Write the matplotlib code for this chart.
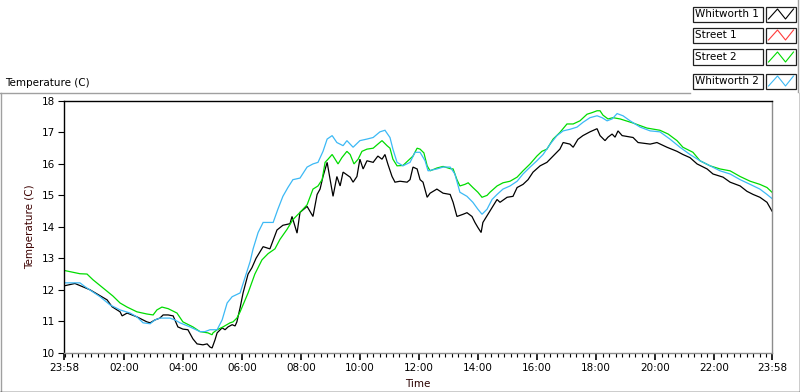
import matplotlib
matplotlib.use("Agg")
import matplotlib.pyplot as plt
from matplotlib.lines import Line2D
from matplotlib.patches import Rectangle

# ---------------- data ----------------
series_names = ["Whitworth 1", "Street 1", "Street 2", "Whitworth 2"]
series_colors = ["#000000", "#ff3c3c", "#00dc00", "#3cb9f5"]

start_clock = "23:58"
tick_labels = ["23:58", "02:00", "04:00", "06:00", "08:00", "10:00", "12:00",
               "14:00", "16:00", "18:00", "20:00", "22:00", "23:58"]
y_ticks = [10, 11, 12, 13, 14, 15, 16, 17, 18]

# hours since start (23:58)
w1_t = [0.03, 0.37, 0.88, 1.46, 1.63, 1.90, 1.97, 2.14, 2.47, 2.81, 2.92, 3.08, 3.25, 3.36,
        3.53, 3.70, 3.86, 4.03, 4.20, 4.37, 4.51, 4.71, 4.85, 4.95, 5.02, 5.12, 5.19, 5.36,
        5.46, 5.56, 5.70, 5.80, 5.86, 5.97, 6.07, 6.24, 6.37, 6.51, 6.64, 6.75, 6.98, 7.22,
        7.42, 7.66, 7.73, 7.90, 8.00, 8.24, 8.44, 8.58, 8.68, 8.78, 8.92, 9.02, 9.12, 9.25,
        9.36, 9.46, 9.70, 9.80, 9.93, 10.03, 10.14, 10.27, 10.48, 10.64, 10.78, 10.88, 10.98,
        11.12, 11.22, 11.39, 11.63, 11.73, 11.83, 11.97, 12.07, 12.17, 12.31, 12.41, 12.64,
        12.85, 13.09, 13.19, 13.32, 13.53, 13.66, 13.83, 13.93, 14.03, 14.14, 14.20, 14.37,
        14.54, 14.68, 14.78, 15.02, 15.22, 15.36, 15.56, 15.73, 15.90, 16.14, 16.37, 16.58,
        16.81, 16.92, 17.15, 17.26, 17.42, 17.59, 17.83, 18.07, 18.17, 18.34, 18.44, 18.58,
        18.68, 18.78, 18.92, 19.29, 19.46, 19.87, 20.10, 20.44, 20.78, 20.98, 21.22, 21.46,
        21.80, 22.00, 22.34, 22.58, 22.92, 23.15, 23.36, 23.59, 23.83, 24.0]
w1_v = [12.13, 12.2, 12.0, 11.68, 11.46, 11.3, 11.17, 11.26, 11.14, 10.98, 10.95, 11.04, 11.1, 11.2,
        11.2, 11.17, 10.82, 10.75, 10.73, 10.44, 10.28, 10.25, 10.28, 10.18, 10.15, 10.41, 10.63, 10.79,
        10.73, 10.82, 10.89, 10.85, 10.98, 11.43, 11.9, 12.5, 12.7, 13.0, 13.2, 13.37, 13.3, 13.9,
        14.05, 14.1, 14.33, 13.8, 14.46, 14.65, 14.33, 15.03, 15.2, 15.6, 16.05, 15.5, 14.97, 15.6,
        15.3, 15.74, 15.58, 15.42, 15.6, 16.15, 15.84, 16.1, 16.05, 16.25, 16.15, 16.3, 15.99,
        15.6, 15.42, 15.45, 15.42, 15.5, 15.9, 15.84, 15.5, 15.42, 14.94, 15.07, 15.2,
        15.07, 15.03, 14.78, 14.33, 14.4, 14.45, 14.33, 14.14, 13.98, 13.82, 14.14, 14.4,
        14.66, 14.87, 14.78, 14.94, 14.97, 15.25, 15.35, 15.5, 15.74, 15.94, 16.05, 16.25,
        16.47, 16.68, 16.63, 16.53, 16.78, 16.9, 17.02, 17.12, 16.9, 16.74, 16.85, 16.95,
        16.85, 17.05, 16.9, 16.84, 16.68, 16.63, 16.68, 16.53, 16.4, 16.3, 16.2, 16.0,
        15.84, 15.68, 15.58, 15.42, 15.3, 15.13, 15.03, 14.94, 14.78, 14.5]

s1_t = []
s1_v = []

s2_t = [0.03, 0.54, 0.78, 0.98, 1.32, 1.66, 1.90, 2.14, 2.47, 2.81, 3.02, 3.15, 3.32, 3.53,
        3.83, 4.03, 4.37, 4.61, 4.88, 5.02, 5.05, 5.19, 5.39, 5.63, 5.73, 5.86, 5.97, 6.24,
        6.47, 6.71, 6.92, 7.15, 7.32, 7.56, 7.76, 8.00, 8.24, 8.44, 8.61, 8.75, 8.85, 8.95,
        9.09, 9.19, 9.29, 9.42, 9.59, 9.70, 9.83, 9.97, 10.10, 10.27, 10.48, 10.64, 10.78,
        10.95, 11.05, 11.15, 11.29, 11.49, 11.66, 11.83, 11.97, 12.07, 12.20, 12.31, 12.41,
        12.64, 12.85, 13.09, 13.19, 13.32, 13.42, 13.59, 13.70, 13.86, 14.03, 14.17, 14.34,
        14.44, 14.68, 14.88, 15.12, 15.36, 15.56, 15.80, 16.03, 16.20, 16.37, 16.58, 16.81,
        17.05, 17.26, 17.49, 17.73, 17.90, 18.07, 18.17, 18.27, 18.44, 18.61, 18.85, 19.29,
        19.76, 20.20, 20.48, 20.78, 20.98, 21.32, 21.56, 21.90, 22.24, 22.58, 22.92, 23.26,
        23.59, 23.83, 24.0]
s2_v = [12.61, 12.51, 12.5, 12.32, 12.06, 11.8, 11.58, 11.45, 11.3, 11.23, 11.2, 11.36, 11.45, 11.4,
        11.26, 10.98, 10.82, 10.67, 10.63, 10.57, 10.63, 10.73, 10.82, 10.95, 10.98, 11.1, 11.3, 11.9,
        12.5, 12.95, 13.15, 13.3, 13.6, 13.92, 14.23, 14.46, 14.7, 15.2, 15.3, 15.5, 16.05, 16.15,
        16.3, 16.15, 16.0, 16.2, 16.4, 16.3, 16.0, 16.15, 16.4, 16.47, 16.5, 16.63, 16.74,
        16.58, 16.5, 16.15, 15.94, 15.95, 16.1, 16.25, 16.5, 16.47, 16.35, 15.94, 15.78,
        15.87, 15.92, 15.85, 15.84, 15.5, 15.3, 15.35, 15.4, 15.25, 15.1, 14.94, 15.0,
        15.1, 15.3, 15.4, 15.45, 15.58, 15.78, 16.0, 16.25, 16.4, 16.47, 16.79, 17.0,
        17.27, 17.27, 17.37, 17.58, 17.63, 17.69, 17.69, 17.55, 17.43, 17.47, 17.43, 17.3,
        17.14, 17.07, 16.95, 16.74, 16.53, 16.37, 16.1, 15.94, 15.84, 15.78, 15.6, 15.45,
        15.35, 15.25, 15.1]

w2_t = [0.03, 0.54, 0.71, 0.98, 1.22, 1.56, 1.90, 2.24, 2.47, 2.68, 2.92, 3.08, 3.25, 3.59,
        3.76, 3.93, 4.27, 4.61, 4.78, 4.95, 5.19, 5.36, 5.53, 5.70, 5.97, 6.14, 6.31, 6.41,
        6.58, 6.75, 7.09, 7.25, 7.42, 7.59, 7.76, 8.00, 8.24, 8.44, 8.61, 8.78, 8.92, 9.09,
        9.25, 9.46, 9.59, 9.80, 10.03, 10.27, 10.48, 10.71, 10.88, 11.05, 11.15, 11.29, 11.49,
        11.73, 11.90, 12.07, 12.24, 12.34, 12.64, 12.85, 13.09, 13.25, 13.42, 13.66, 13.86,
        14.03, 14.17, 14.34, 14.51, 14.68, 14.88, 15.12, 15.36, 15.56, 15.80, 16.03, 16.24,
        16.48, 16.71, 16.92, 17.15, 17.39, 17.59, 17.83, 18.07, 18.24, 18.41, 18.58, 18.75,
        18.95, 19.19, 19.53, 19.87, 20.20, 20.54, 20.88, 21.22, 21.56, 21.90, 22.24, 22.58,
        22.92, 23.26, 23.59, 23.83, 24.0]
w2_v = [12.22, 12.22, 12.1, 11.93, 11.78, 11.52, 11.36, 11.26, 11.14, 10.95, 10.92, 11.04, 11.1, 11.1,
        11.04, 10.95, 10.82, 10.67, 10.67, 10.73, 10.73, 11.04, 11.58, 11.78, 11.9, 12.4, 12.9, 13.3,
        13.82, 14.14, 14.14, 14.56, 14.97, 15.25, 15.5, 15.55, 15.9, 16.0, 16.05, 16.4, 16.79, 16.9,
        16.68, 16.58, 16.74, 16.53, 16.74, 16.79, 16.84, 17.02, 17.07, 16.84, 16.47, 16.05, 15.94,
        16.05, 16.37, 16.37, 16.1, 15.78, 15.84, 15.9, 15.9, 15.68, 15.1, 14.97, 14.78,
        14.56, 14.4, 14.56, 14.87, 15.03, 15.2, 15.3, 15.45, 15.68, 15.9, 16.1, 16.3,
        16.63, 16.9, 17.05, 17.1, 17.17, 17.32, 17.47, 17.53, 17.47, 17.37, 17.43, 17.6,
        17.53, 17.37, 17.17, 17.05, 17.02, 16.79, 16.53, 16.3, 16.1, 15.94, 15.78, 15.68,
        15.5, 15.35, 15.2, 15.03, 14.9]

# ---------------- figure ----------------
plt.rcParams["font.family"] = ["DejaVu Sans"]
plt.rcParams["font.size"] = 7.5

W, H = 800, 392
fig = plt.figure(figsize=(W / 100, H / 100), dpi=100, facecolor="white")


def fx(px):
    return px / W


def fy(py):
    return 1 - py / H


ax = fig.add_axes([fx(64), fy(352.7), fx(772) - fx(64), fy(101) - fy(352.7)])
ax.set_facecolor("white")

series = [(w1_t, w1_v), (s1_t, s1_v), (s2_t, s2_v), (w2_t, w2_v)]
for (t, v), c in zip(series, series_colors):
    ax.plot(t, v, color=c, lw=0.9, solid_joinstyle="miter")

ax.set_xlim(0, 24)
ax.set_ylim(10, 18)

# time ticks
sh, sm = map(int, start_clock.split(":"))
start_min = sh * 60 + sm
major_pos = []
for i, lab in enumerate(tick_labels):
    h, m = map(int, lab.split(":"))
    p = ((h * 60 + m) - start_min) % 1440 / 60.0
    if i == len(tick_labels) - 1:
        p = 24.0
    major_pos.append(p)
ax.set_xticks(major_pos)
ax.set_xticklabels(tick_labels)
off = ((0 - start_min) % 1440) / 60.0
minor = []
k = 0
while off + k * 2 / 9 <= 24.0001:
    p = off + k * 2 / 9
    if k % 9 != 0:
        minor.append(p)
    else:
        minor.append(p)
    k += 1
minor = [p for p in minor if all(abs(p - q) > 0.01 for q in major_pos[1:-1])]
ax.set_xticks(minor, minor=True)

ax.set_yticks(y_ticks)
ax.set_yticklabels([str(v) for v in y_ticks])

ax.tick_params(axis="x", which="major", direction="out", length=5, width=1.2,
               color="black", pad=2.2, labelsize=7.5)
ax.tick_params(axis="x", which="minor", direction="out", length=3, width=0.8,
               color="black")
ax.tick_params(axis="y", which="major", direction="out", length=4, width=0.8,
               color="black", pad=2.5, labelsize=7.5)

for side in ("top", "left"):
    ax.spines[side].set_color("black")
    ax.spines[side].set_linewidth(1.0)
for side in ("bottom", "right"):
    ax.spines[side].set_color("#8c8c8c")
    ax.spines[side].set_linewidth(1.0)

# labels
fig.text(fx(30), fy(227), "Temperature (C)", rotation=90, ha="center", va="center",
         color="#3c0000", fontsize=7.5)
fig.text(fx(418), fy(384), "Time", ha="center", va="center", color="#2a0000", fontsize=7.5)
fig.text(fx(5), fy(83), "Temperature (C)", ha="left", va="center", color="black", fontsize=7.5)

# outer frame
fig.add_artist(Line2D([fx(0), fx(690)], [fy(92.5), fy(92.5)], color="#a0a0a0", lw=1))
fig.add_artist(Line2D([fx(0.5), fx(0.5)], [fy(92.5), fy(392)], color="#a0a0a0", lw=1))
fig.add_artist(Line2D([fx(799.5), fx(799.5)], [fy(92.5), fy(392)], color="black", lw=1))
fig.add_artist(Line2D([fx(0), fx(800)], [fy(391.5), fy(391.5)], color="black", lw=1))
fig.add_artist(Line2D([fx(797.5), fx(797.5)], [fy(0), fy(92)], color="#a0a0a0", lw=1))

# legend
centers = [14, 35, 57, 81]
hh = 7.5
for name, col, cy in zip(series_names, series_colors, centers):
    y0, y1 = cy + hh, cy - hh
    fig.add_artist(Rectangle((fx(692.5), fy(y0)), fx(763) - fx(692.5), fy(y1) - fy(y0),
                             facecolor="white", edgecolor="#202020", lw=0.9))
    fig.text(fx(695), fy(cy), name, ha="left", va="center", color="black", fontsize=7.5)
    fig.add_artist(Rectangle((fx(766), fy(y0)), fx(795.5) - fx(766), fy(y1) - fy(y0),
                             facecolor="white", edgecolor="#202020", lw=0.9))
    xs = [768.5, 777.5, 785.5, 793.5]
    ys = [cy + 5, cy - 5, cy + 5, cy - 5]
    fig.add_artist(Line2D([fx(x) for x in xs], [fy(y) for y in ys], color=col, lw=0.8))

fig.savefig("out.png", dpi=100, facecolor="white")
